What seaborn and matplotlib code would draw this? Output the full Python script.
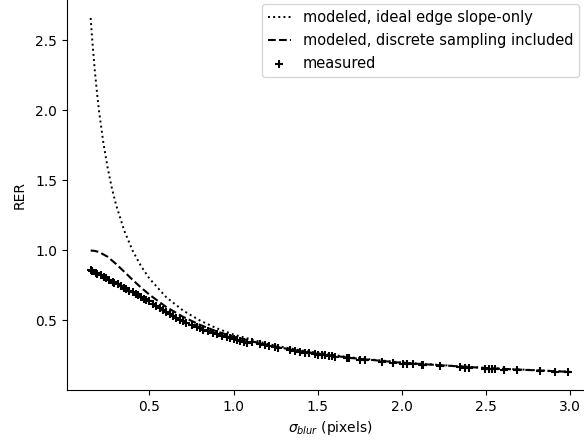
import numpy as np
import pandas as pd
import matplotlib
matplotlib.use("Agg")
import matplotlib.pyplot as plt
import seaborn as sns

# modeled, ideal edge slope-only
sigma_ideal = [0.15, 0.16, 0.175, 0.19, 0.2, 0.225, 0.25, 0.275, 0.3, 0.35, 0.4, 0.45, 0.5, 0.6, 0.7,
               0.8, 0.9, 1.0, 1.2, 1.4, 1.7, 2.0, 2.5, 3.0]
rer_ideal = [2.660, 2.493, 2.280, 2.100, 1.995, 1.773, 1.596, 1.451, 1.330, 1.140, 0.997, 0.887, 0.798,
             0.665, 0.570, 0.499, 0.443, 0.399, 0.332, 0.285, 0.235, 0.199, 0.160, 0.133]

# modeled, discrete sampling included
sigma_disc = [0.15, 0.175, 0.2, 0.25, 0.3, 0.35, 0.4, 0.45, 0.5, 0.6, 0.7, 0.8, 0.9, 1.0, 1.2, 1.4,
              1.7, 2.0, 2.5, 3.0]
rer_disc = [0.999, 0.996, 0.988, 0.955, 0.904, 0.847, 0.789, 0.734, 0.683, 0.595, 0.525, 0.468, 0.421,
            0.383, 0.323, 0.279, 0.231, 0.197, 0.159, 0.132]

# measured
sigma_meas = [0.15, 0.16, 0.18, 0.19, 0.21, 0.23, 0.24, 0.26, 0.28, 0.29, 0.31, 0.33, 0.35, 0.36, 0.38,
              0.40, 0.42, 0.43, 0.45, 0.47, 0.48, 0.50, 0.52, 0.54, 0.56, 0.58, 0.60, 0.62, 0.64, 0.66,
              0.68, 0.70, 0.72, 0.75, 0.78, 0.80, 0.82, 0.85, 0.88, 0.90, 0.93, 0.96, 0.98, 1.00, 1.02,
              1.04, 1.06, 1.08,
              1.109, 1.158, 1.188, 1.208, 1.247, 1.267, 1.337, 1.366, 1.396, 1.426, 1.446, 1.485, 1.505,
              1.525, 1.545, 1.565, 1.585, 1.604, 1.674, 1.684, 1.753, 1.783, 1.882, 1.951, 2.011, 2.031,
              2.070, 2.120, 2.130, 2.229, 2.348, 2.378, 2.398, 2.497, 2.517, 2.537, 2.556, 2.606, 2.685,
              2.824, 2.913, 2.992]
rer_meas = [0.860, 0.854, 0.841, 0.834, 0.821, 0.809, 0.802, 0.789, 0.776, 0.770, 0.757, 0.744, 0.731,
            0.725, 0.712, 0.699, 0.686, 0.680, 0.667, 0.654, 0.648, 0.635, 0.620, 0.605, 0.590, 0.574,
            0.560, 0.546, 0.532, 0.519, 0.506, 0.494, 0.483, 0.466, 0.452, 0.444, 0.434, 0.421, 0.409,
            0.401, 0.389, 0.378, 0.371, 0.365, 0.358, 0.352, 0.346, 0.340,
            0.347, 0.332, 0.324, 0.319, 0.309, 0.304, 0.288, 0.282, 0.276, 0.270, 0.266, 0.259, 0.256,
            0.252, 0.249, 0.246, 0.243, 0.240, 0.230, 0.229, 0.220, 0.216, 0.205, 0.197, 0.191, 0.190,
            0.186, 0.182, 0.181, 0.173, 0.164, 0.162, 0.161, 0.154, 0.153, 0.152, 0.151, 0.148, 0.143,
            0.136, 0.132, 0.129]

W, H = 584, 444
fig = plt.figure(figsize=(W / 100, H / 100), dpi=100)
left_px, bottom_px = 66.7, 390.0
right_px, top_px = 593.7, 0.2
ax = fig.add_axes([left_px / W, 1 - bottom_px / H, (right_px - left_px) / W, (bottom_px - top_px) / H])

df_ideal = pd.DataFrame({"sigma": sigma_ideal, "rer": rer_ideal})
df_disc = pd.DataFrame({"sigma": sigma_disc, "rer": rer_disc})
df_meas = pd.DataFrame({"sigma": sigma_meas, "rer": rer_meas})

sns.lineplot(data=df_ideal, x="sigma", y="rer", ax=ax, color="black", linestyle=":", linewidth=1.4,
             label="modeled, ideal edge slope-only")
sns.lineplot(data=df_disc, x="sigma", y="rer", ax=ax, color="black", linestyle="--", linewidth=1.5,
             label="modeled, discrete sampling included")
sns.scatterplot(data=df_meas, x="sigma", y="rer", ax=ax, color="black", marker="+", s=40,
                linewidth=1.5, label="measured", zorder=3)

ax.set_xlim(0.0075, 3.1425)
ax.set_ylim(0.0025, 2.787)
ax.set_xticks([0.5, 1.0, 1.5, 2.0, 2.5, 3.0])
ax.set_yticks([0.5, 1.0, 1.5, 2.0, 2.5])
ax.set_xlabel(r"$\sigma_{blur}$ (pixels)")
ax.set_ylabel("RER", labelpad=6)
ax.spines["top"].set_visible(False)

ax.legend(loc="upper right", bbox_to_anchor=(579 / W, 1 - 4 / H), bbox_transform=fig.transFigure,
          borderaxespad=0, fontsize=10.5, handlelength=1.6, labelspacing=0.55)

fig.savefig("out.png", dpi=100)
